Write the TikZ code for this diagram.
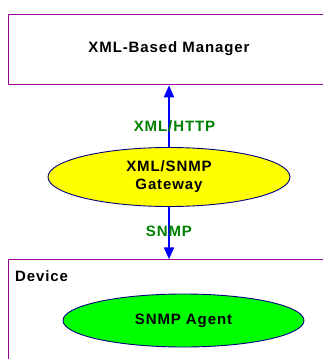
\documentclass[tikz,border=0pt]{standalone}
\usepackage{fontspec}
\setmainfont{Liberation Sans}[LetterSpace=6]
\usetikzlibrary{shapes.geometric,arrows.meta}
\definecolor{boxpurple}{RGB}{153,0,153}
\definecolor{lblgreen}{RGB}{0,128,0}
\definecolor{navy}{RGB}{0,0,128}
\definecolor{gwyellow}{RGB}{255,255,0}
\definecolor{agentgreen}{RGB}{0,255,0}
\begin{document}
\begin{tikzpicture}[x=1pt,y=-1pt,
  every node/.style={font=\fontsize{15}{18}\selectfont\bfseries, inner sep=0pt},
  box/.style={draw=boxpurple, line width=1pt, rectangle, anchor=north west, minimum width=332pt},
  oval/.style={ellipse, draw=navy, line width=0.9pt},
  conn/.style={draw=blue, line width=2pt, -{Triangle[width=10pt,length=12pt]}},
  proto/.style={text=lblgreen}
]
\useasboundingbox (0,0) rectangle (323,359);
\clip (0,0) rectangle (323,359);
\node[box, minimum height=70pt] (mgr) at (8.3,14.3) {};
\node (mgrlabel) at (169,49) {XML-Based Manager};
\node[box, minimum height=120pt] (dev) at (8.3,259.3) {};
\node[anchor=west] (devlabel) at (15,276) {Device};
\node[oval, fill=gwyellow, minimum width=242pt, minimum height=59pt, align=center] (gw) at (169,177) {XML/SNMP\\Gateway};
\node[oval, fill=agentgreen, minimum width=241pt, minimum height=53pt] (agent) at (183.5,320.5) {SNMP Agent};
\draw[conn] (gw.north) -- (gw.north |- mgr.south);
\draw[conn] (gw.south) -- (gw.south |- dev.north);
\node[proto] (httplabel) at (174.5,126) {XML/HTTP};
\node[proto] (snmplabel) at (169,231.5) {SNMP};
\end{tikzpicture}
\end{document}
